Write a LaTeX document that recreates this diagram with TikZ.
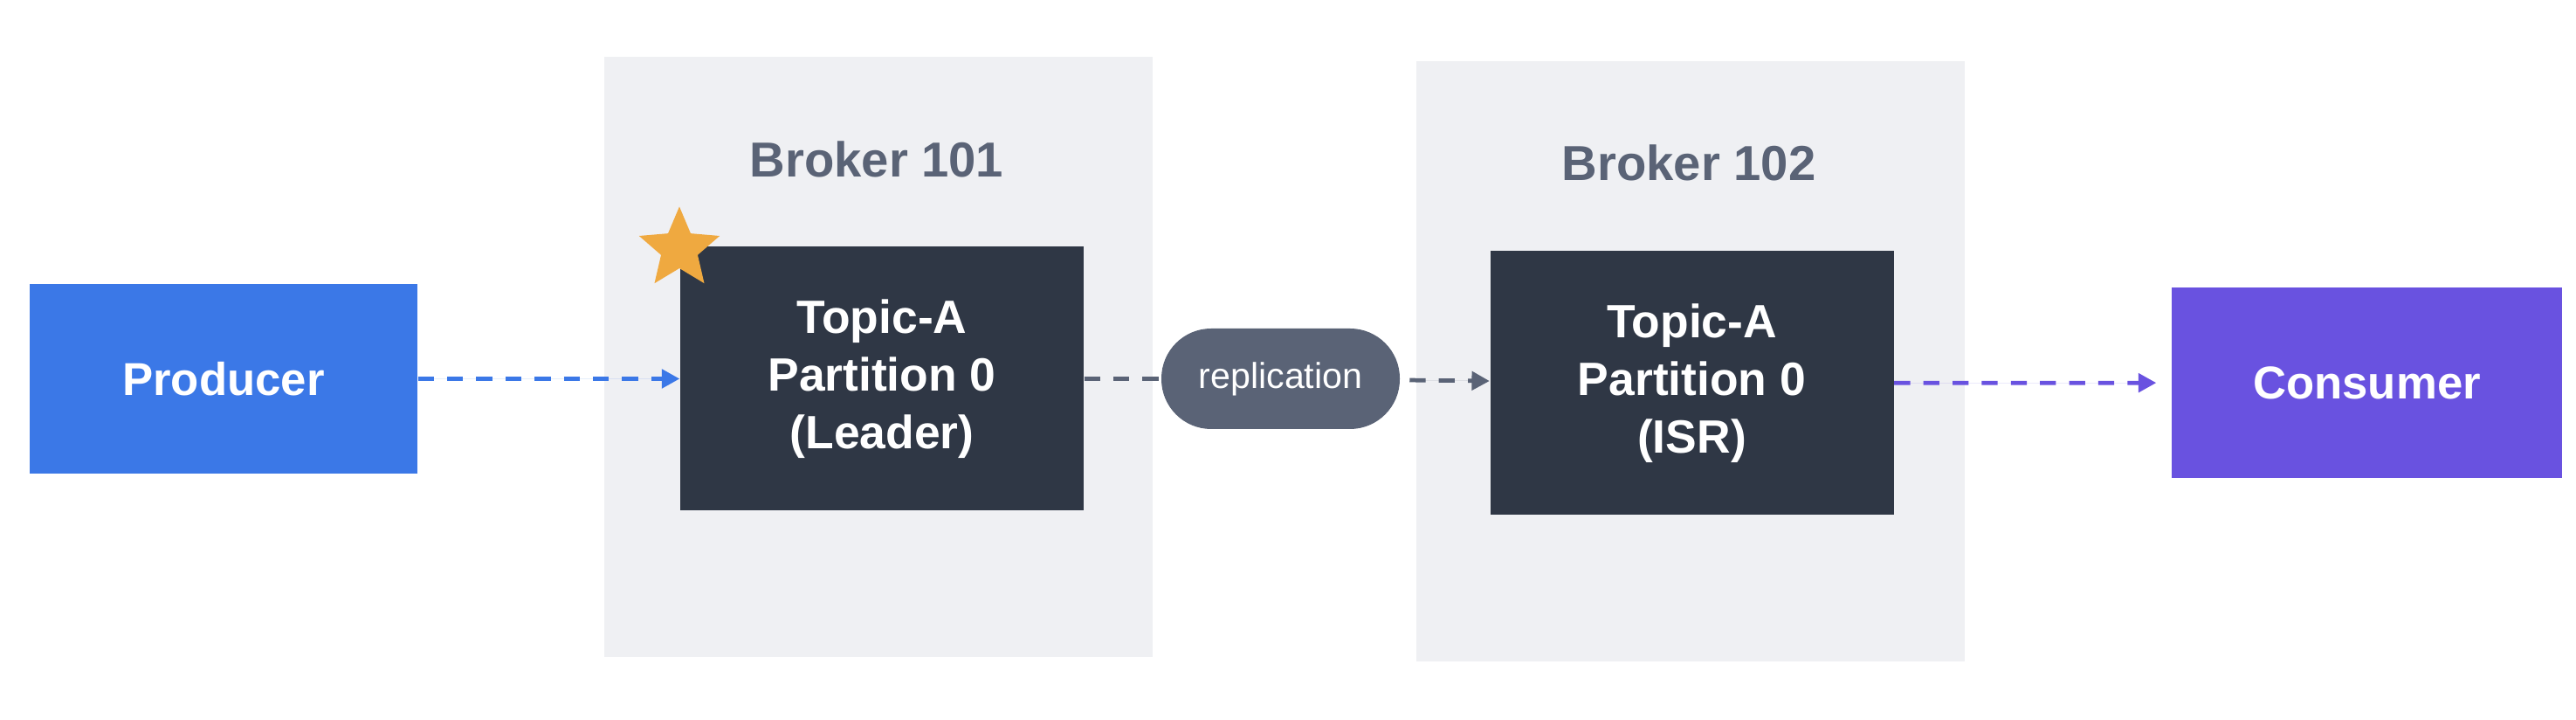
\documentclass[tikz,border=0pt]{standalone}
\usepackage{fontspec}
\setmainfont{Liberation Sans}
\usetikzlibrary{arrows.meta}
\usetikzlibrary{shapes.geometric}
\definecolor{prodblue}{HTML}{3B78E7}
\definecolor{conspurple}{HTML}{6952E0}
\definecolor{partdark}{HTML}{2F3745}
\definecolor{brokerbg}{HTML}{EFF0F3}
\definecolor{labelgray}{HTML}{5A6376}
\definecolor{starorange}{HTML}{EFA940}
\tikzset{client/.style={rectangle, inner sep=0pt, text=white, font=\fontsize{15}{18}\selectfont\bfseries}}
\tikzset{partbox/.style={rectangle, fill=partdark, inner sep=0pt, minimum width=4.62cm, minimum height=3.02cm, text=white, align=center, font=\fontsize{15.2}{18.7}\selectfont\bfseries}}
\tikzset{brokerbox/.style={rectangle, fill=brokerbg, inner sep=0pt, minimum width=6.28cm, minimum height=6.87cm}}
\tikzset{blabel/.style={text=labelgray, font=\fontsize{16}{16}\selectfont\bfseries}}
\tikzset{flow/.style={line width=1.35pt, dash pattern=on 5.2pt off 4.3pt, -{Triangle[length=5.8pt, width=6pt]}}}

\begin{document}
\begin{tikzpicture}
        \fill[white] (0,0) rectangle (29.5,-8.24);
        \useasboundingbox (0,0) rectangle (29.5,-8.24);
        % brokers
        \node[brokerbox] (B1) at (10.06,-4.09) {};
        \node[blabel] (B1l) at (10.04,-1.82) {Broker 101};
        \node[brokerbox] (B2) at (19.355,-4.14) {};
        \node[blabel] (B2l) at (19.34,-1.86) {Broker 102};
        % clients and partitions
        \node[client, fill=prodblue, minimum width=4.44cm, minimum height=2.17cm] (P) at (2.56,-4.335) {Producer};
        \node[partbox] (L) at (10.10,-4.335) {Topic-A\\Partition 0\\(Leader)};
        \node[partbox] (I) at (19.375,-4.385) {Topic-A\\Partition 0\\(ISR)};
        \node[client, fill=conspurple, minimum width=4.47cm, minimum height=2.18cm] (C) at (27.105,-4.38) {Consumer};
        \node[star, star points=5, star point ratio=2.2, fill=starorange, inner sep=0pt, minimum size=0.97cm] (S) at (7.78,-2.85) {};
        \node[rectangle, rounded corners=5.7mm, fill=labelgray, inner sep=0pt, minimum width=2.73cm, minimum height=1.15cm, text=white, font=\fontsize{11.7}{12}\selectfont] (R) at (14.665,-4.335) {replication};
        % connectors
        \draw[flow, draw=prodblue, fill=prodblue] (P) -- (L);
        \draw[line width=1.35pt, dash pattern=on 5.2pt off 4.3pt, draw=labelgray] (L) -- (R);
        \draw[flow, draw=labelgray, fill=labelgray, shorten <=3pt] (R) -- (I);
        \draw[flow, draw=conspurple, fill=conspurple, shorten >=0.17cm] (I) -- (C);
      \end{tikzpicture}
\end{document}
